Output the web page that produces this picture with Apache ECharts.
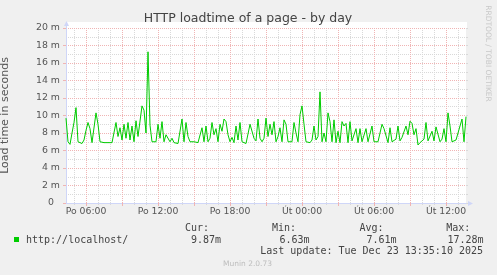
<!DOCTYPE html>
<html><head><meta charset="utf-8">
<script src="https://cdn.jsdelivr.net/npm/echarts@6/dist/echarts.min.js"></script>
<style>html,body{margin:0;padding:0;background:#F0F0F0}#c{width:497px;height:275px}</style>
</head><body><div id="c"></div>
<script>
// ---- data (values in milliseconds, one sample every 10 minutes) ----
const dayNames = ['Po', 'Út'];
const startMinute = 260;   // Po 04:20
const stepMinutes = 10;
const loadTimeMs = [
  9.7, 7.0, 6.7, 8.0, 9.2, 10.9, 7.0, 6.8, 6.8, 7.2,
  8.3, 9.2, 8.5, 6.9, 7.0, 10.3, 9.0, 7.0, 6.9, 6.9,
  6.9, 6.9, 6.85, 6.9, 6.9, 9.2, 7.6, 8.6, 7.2, 9.0,
  7.4, 9.2, 7.2, 8.8, 7.0, 9.4, 7.6, 7.4, 11.1, 10.6,
  8.0, 17.28, 8.9, 7.0, 6.9, 7.0, 9.0, 7.4, 9.3, 7.0,
  7.8, 7.6, 7.0, 7.4, 6.9, 7.0, 6.8, 6.9, 9.6, 7.0,
  9.2, 7.6, 7.0, 6.9, 7.0, 6.9, 6.9, 7.0, 8.6, 7.0,
  8.8, 7.0, 7.4, 9.2, 7.8, 8.5, 7.0, 9.0, 8.2, 9.6,
  9.3, 7.8, 7.0, 7.5, 6.9, 8.8, 7.2, 9.2, 7.0, 6.9,
  6.8, 6.9, 9.0, 8.8, 7.4, 7.1, 9.6, 7.4, 7.0, 7.4,
  9.7, 7.6, 9.0, 7.8, 9.3, 7.0, 7.6, 8.6, 7.0, 9.5,
  9.0, 7.0, 7.2, 7.0, 9.2, 8.0, 7.0, 10.1, 11.1, 9.0,
  7.0, 7.2, 6.9, 7.2, 8.8, 7.2, 7.6, 12.7, 7.0, 8.0,
  7.0, 10.3, 9.3, 7.0, 9.5, 6.9, 8.2, 6.9, 9.3, 8.8,
  9.1, 6.9, 9.3, 7.1, 7.2, 8.5, 6.9, 8.5, 7.0, 7.1,
  8.5, 7.0, 7.0, 8.8, 7.0, 7.0, 7.0, 7.1, 9.0, 8.5,
  8.6, 6.9, 8.6, 7.0, 7.0, 7.3, 8.8, 7.1, 7.5, 7.4,
  8.8, 7.8, 9.35, 9.1, 7.8, 8.5, 6.63, 6.9, 7.0, 7.3,
  9.2, 7.1, 7.0, 8.2, 7.1, 8.7, 8.8, 7.0, 7.3, 8.5,
  7.0, 10.3, 8.8, 7.0, 6.9, 7.2, 7.2, 8.8, 9.6, 7.0,
  9.87
];
const xLabelTimes = ['Po 06:00', 'Po 12:00', 'Po 18:00', 'Út 00:00', 'Út 06:00', 'Út 12:00'];
const xMajorTimes = ['Po 06:00', 'Po 09:00', 'Po 12:00', 'Po 15:00', 'Po 18:00', 'Po 21:00',
                     'Út 00:00', 'Út 03:00', 'Út 06:00', 'Út 09:00', 'Út 12:00'];
const seriesName = 'http://localhost/';
const statLabels = ['Cur:', 'Min:', 'Avg:', 'Max:'];
const statValues = ['9.87m', '6.63m', '7.61m', '17.28m'];
const lastUpdate = 'Last update: Tue Dec 23 13:35:10 2025';

const pad2 = n => String(n).padStart(2, '0');
const categories = loadTimeMs.map((_, i) => {
  const m = startMinute + i * stepMinutes;
  const d = Math.floor(m / 1440), r = m % 1440;
  return dayNames[d] + ' ' + pad2(Math.floor(r / 60)) + ':' + pad2(r % 60);
});
const isLabel = (i, v) => xLabelTimes.includes(v);
const isMajor = (i, v) => xMajorTimes.includes(v);
const isHour = (i, v) => v.endsWith(':00');

const RED = '#F0B4B4', GRAY = '#D9D9D9', AXIS = '#CFD6F8', FONT = '#555555';
const mono = '"DejaVu Sans Mono", monospace';
const sans = '"DejaVu Sans", sans-serif';

const statX = [[185, 221], [272, 309.5], [359.5, 396.5], [446.3, 483.6]];
const legendTexts = [];
statLabels.forEach((s, k) => {
  legendTexts.push({type: 'text', x: statX[k][0], y: 228.5,
    style: {text: s, font: '10px ' + mono, fill: '#444', textAlign: 'left', textVerticalAlign: 'middle'}});
  legendTexts.push({type: 'text', x: statX[k][1], y: 240.3,
    style: {text: statValues[k], font: '10px ' + mono, fill: '#444', textAlign: 'right', textVerticalAlign: 'middle'}});
});

const chart = echarts.init(document.getElementById('c'), null, {renderer: 'canvas'});
chart.setOption({
  backgroundColor: '#F0F0F0',
  animation: false,
  textStyle: {fontFamily: sans},
  grid: {left: 66, top: 28, width: 400, height: 175, show: true, backgroundColor: '#FFFFFF', borderWidth: 0,
         containLabel: false, outerBoundsMode: 'none'},
  xAxis: [
    {type: 'category', data: categories, boundaryGap: false, z: 1,
     axisLine: {show: true, lineStyle: {color: AXIS, width: 1}},
     axisTick: {show: true, length: 3, interval: isMajor, lineStyle: {color: RED}},
     axisLabel: {interval: isLabel, margin: 4, fontSize: 9.3, color: FONT, fontFamily: sans},
     splitLine: {show: true, interval: isMajor, lineStyle: {color: RED, type: [1, 1], width: 1}}},
    {type: 'category', data: categories, boundaryGap: false, z: 0, position: 'bottom',
     axisLine: {show: false},
     axisTick: {show: true, length: 2, interval: isHour, lineStyle: {color: GRAY}},
     axisLabel: {show: false},
     splitLine: {show: true, interval: isHour, lineStyle: {color: GRAY, type: [1, 1], width: 1}}}
  ],
  yAxis: [
    {type: 'value', min: 0, max: 20, interval: 2, z: 1,
     axisLine: {show: true, lineStyle: {color: AXIS, width: 1}},
     axisTick: {show: true, length: 3, lineStyle: {color: RED}},
     axisLabel: {margin: 6, fontSize: 9.4, color: FONT, fontFamily: sans,
                 formatter: v => v === 0 ? '0  ' : v + ' m'},
     splitLine: {show: true, lineStyle: {color: RED, type: [1, 1], width: 1}},
     name: 'Load time in seconds', nameLocation: 'middle', nameRotate: 90, nameGap: 55,
     nameTextStyle: {fontSize: 11, color: FONT, fontFamily: sans}},
    {type: 'value', min: 0, max: 20, interval: 1, z: 0,
     axisLine: {show: false},
     axisTick: {show: true, length: 2, lineStyle: {color: GRAY}},
     axisLabel: {show: false},
     splitLine: {show: true, lineStyle: {color: GRAY, type: [1, 1], width: 1}}}
  ],
  series: [{
    name: seriesName, type: 'line', data: loadTimeMs, xAxisIndex: 0, yAxisIndex: 0,
    showSymbol: false, symbol: 'none', z: 5,
    lineStyle: {color: '#00CC00', width: 1}, itemStyle: {color: '#00CC00'}
  }],
  graphic: {elements: [
    {type: 'rect', shape: {x: 66, y: 22, width: 401, height: 6}, style: {fill: '#FFFFFF'}, silent: true},
    {type: 'line', shape: {x1: 66.5, y1: 28, x2: 66.5, y2: 24}, style: {stroke: AXIS, lineWidth: 1}},
    {type: 'polygon', shape: {points: [[64, 26], [69, 26], [66.5, 21]]}, style: {fill: AXIS}},
    {type: 'line', shape: {x1: 466, y1: 203.5, x2: 469, y2: 203.5}, style: {stroke: AXIS, lineWidth: 1}},
    {type: 'polygon', shape: {points: [[468, 201], [468, 206], [473, 203.5]]}, style: {fill: AXIS}},
    {type: 'text', x: 248, y: 19,
     style: {text: 'HTTP loadtime of a page - by day', font: '12.5px ' + sans, fill: '#444',
             textAlign: 'center', textVerticalAlign: 'middle'}},
    {type: 'text', x: 487.5, y: 53.5, rotation: -Math.PI / 2,
     style: {text: 'RRDTOOL / TOBI OETIKER', font: '7.5px ' + sans, fill: '#C8C8C8',
             textAlign: 'center', textVerticalAlign: 'middle'}},
    {type: 'rect', shape: {x: 14, y: 237, width: 5, height: 5}, style: {fill: '#00CC00'}},
    {type: 'text', x: 26, y: 240.3,
     style: {text: seriesName, font: '10px ' + mono, fill: '#444', textAlign: 'left', textVerticalAlign: 'middle'}},
    ...legendTexts,
    {type: 'text', x: 483, y: 251.3,
     style: {text: lastUpdate, font: '10px ' + mono, fill: '#444', textAlign: 'right', textVerticalAlign: 'middle'}},
    {type: 'text', x: 247.5, y: 264.3,
     style: {text: 'Munin 2.0.73', font: '7.5px ' + sans, fill: '#BDBDBD', textAlign: 'center', textVerticalAlign: 'middle'}}
  ]}
});
</script>
</body></html>
